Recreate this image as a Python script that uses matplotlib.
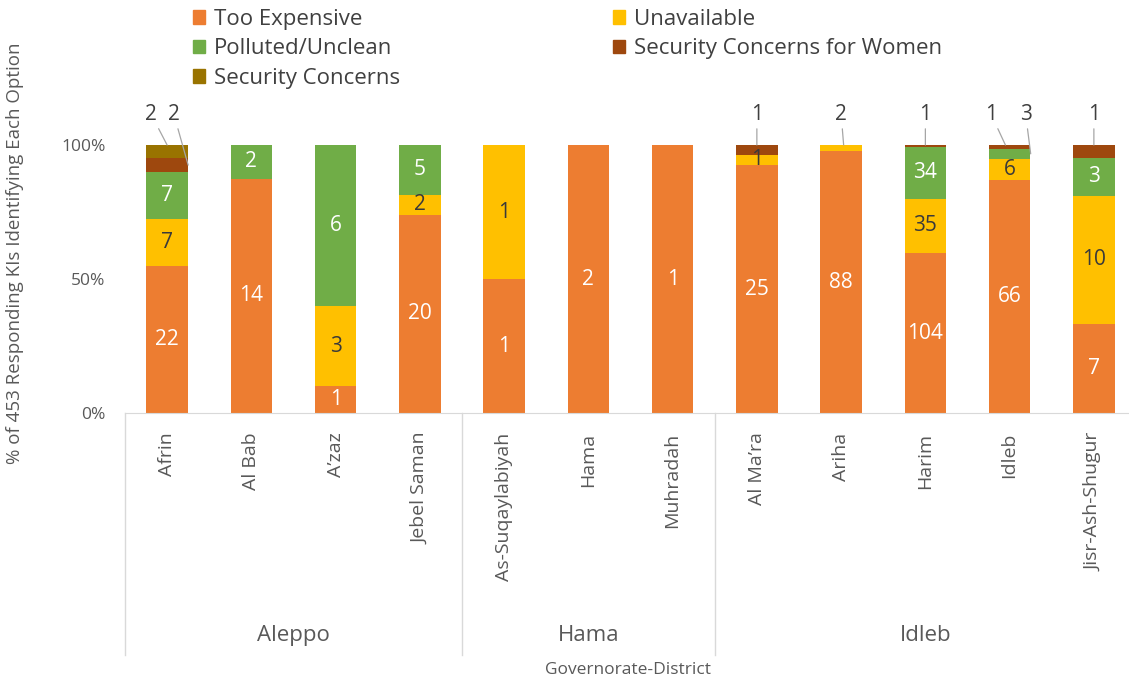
import numpy as np
import matplotlib
matplotlib.use('Agg')
import matplotlib.pyplot as plt
from matplotlib.transforms import blended_transform_factory
from matplotlib.patches import Patch

plt.rcParams['font.family'] = ['Open Sans', 'DejaVu Sans']

districts = ['Afrin', 'Al Bab', 'A\u2019zaz', 'Jebel Saman', 'As-Suqaylabiyah', 'Hama',
             'Muhradah', 'Al Ma\u2019ra', 'Ariha', 'Harim', 'Idleb', 'Jisr-Ash-Shugur']
governorates = ['Aleppo', 'Hama', 'Idleb']
gov_sizes = [4, 3, 5]

options = ['Too Expensive', 'Unavailable', 'Polluted/Unclean',
           'Security Concerns for Women', 'Security Concerns']
too_expensive = [22, 14, 1, 20, 1, 2, 1, 25, 88, 104, 66, 7]
unavailable   = [7, 0, 3, 2, 1, 0, 0, 1, 2, 35, 6, 10]
polluted      = [7, 2, 6, 5, 0, 0, 0, 0, 0, 34, 3, 3]
sec_women     = [2, 0, 0, 0, 0, 0, 0, 1, 0, 1, 1, 1]
security      = [2, 0, 0, 0, 0, 0, 0, 0, 0, 0, 0, 0]

colors = ['#ED7D31', '#FFC000', '#70AD47', '#9E480E', '#997300']
text_colors = ['white', '#3a3a3a', 'white', 'white', 'white']

# labels drawn outside with a leader: (district index, series index) -> (text dx, anchor dx)
outside = {(0, 4): (-0.19, 0.0), (0, 3): (0.08, 0.25),
           (7, 3): (0.0, 0.0), (8, 1): (0.0, 0.03), (9, 3): (0.0, 0.0),
           (10, 3): (-0.22, -0.05), (10, 2): (0.19, 0.25), (11, 3): (0.0, 0.0)}

series = [too_expensive, unavailable, polluted, sec_women, security]
counts = np.array(series, dtype=float)
totals = counts.sum(axis=0)
shares = counts / totals

fig = plt.figure(figsize=(11.29, 6.84), dpi=100)
ax = fig.add_axes([0.1107, 0.396, 0.8955, 0.392])

x = np.arange(len(districts))
bottom = np.zeros(len(districts))
for s, name in enumerate(options):
    ax.bar(x, shares[s], 0.49, bottom=bottom, color=colors[s], label=name, zorder=2)
    for i in x:
        if counts[s, i] == 0:
            continue
        mid = bottom[i] + shares[s, i] / 2
        val = '%d' % counts[s, i]
        if (i, s) in outside:
            dx, adx = outside[(i, s)]
            ax.annotate(val, xy=(i + adx, mid if adx > 0.1 else bottom[i] + shares[s, i]),
                        xytext=(i + dx, 1.115), ha='center', va='center',
                        fontsize=15, color='#404040',
                        arrowprops=dict(arrowstyle='-', color='#A6A6A6', lw=0.9,
                                        shrinkA=1, shrinkB=0))
        else:
            ax.text(i, mid, val, ha='center', va='center', fontsize=15,
                    color=text_colors[s], zorder=3)
    bottom += shares[s]

ax.set_xlim(-0.5, len(districts) - 0.5)
ax.set_ylim(0, 1)
ax.set_yticks([0, 0.5, 1])
ax.set_yticklabels(['0%', '50%', '100%'], fontsize=12.5, color='#595959')
ax.set_xticks(x)
ax.set_xticklabels(districts, rotation=90, fontsize=14, color='#595959', va='top')
ax.tick_params(axis='both', length=0)
ax.tick_params(axis='x', pad=14)
ax.tick_params(axis='y', pad=14)
for side in ['top', 'right', 'left']:
    ax.spines[side].set_visible(False)
ax.spines['bottom'].set_color('#D9D9D9')

# governorate grouping lines and labels
trans = blended_transform_factory(ax.transData, ax.transAxes)
edges = np.concatenate([[0], np.cumsum(gov_sizes)]) - 0.5
for e in edges:
    ax.plot([e, e], [0, -0.903], transform=trans, color='#D9D9D9', lw=1, clip_on=False)
for g, name in enumerate(governorates):
    c = (edges[g] + edges[g + 1]) / 2
    ax.text(c, -0.83, name, transform=trans, ha='center', va='center',
            fontsize=16, color='#595959')

fig.text(0.556, 0.02, 'Governorate-District', ha='center', va='center',
         fontsize=12.5, color='#595959')
fig.text(0.013, 0.63, '% of 453 Responding KIs Identifying Each Option', rotation=90,
         ha='center', va='center', fontsize=13.5, color='#595959')

handles = [Patch(color=c) for c in colors]
leg_kw = dict(loc='upper left', frameon=False, fontsize=16, handlelength=0.55,
              handleheight=0.55, handletextpad=0.4, labelspacing=0.38,
              labelcolor='#404040', borderaxespad=0)
fig.legend([handles[0], handles[2], handles[4]], [options[0], options[2], options[4]],
           bbox_to_anchor=(0.163, 1.0), **leg_kw)
fig.legend([handles[1], handles[3]], [options[1], options[3]],
           bbox_to_anchor=(0.535, 1.0), **leg_kw)

fig.savefig('out.png', dpi=100)
